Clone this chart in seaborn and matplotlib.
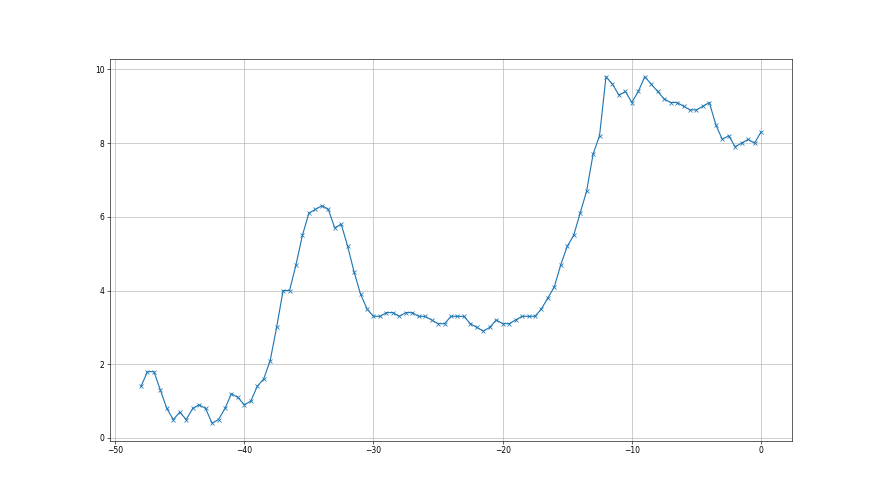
import matplotlib
matplotlib.use("Agg")
import matplotlib.pyplot as plt
import seaborn as sns
import numpy as np
import pandas as pd

x_values = [
    -48.0, -47.5, -47.0, -46.5, -46.0, -45.5, -45.0, -44.5, -44.0, -43.5,
    -43.0, -42.5, -42.0, -41.5, -41.0, -40.5, -40.0, -39.5, -39.0, -38.5,
    -38.0, -37.5, -37.0, -36.5, -36.0, -35.5, -35.0, -34.5, -34.0, -33.5,
    -33.0, -32.5, -32.0, -31.5, -31.0, -30.5, -30.0, -29.5, -29.0, -28.5,
    -28.0, -27.5, -27.0, -26.5, -26.0, -25.5, -25.0, -24.5, -24.0, -23.5,
    -23.0, -22.5, -22.0, -21.5, -21.0, -20.5, -20.0, -19.5, -19.0, -18.5,
    -18.0, -17.5, -17.0, -16.5, -16.0, -15.5, -15.0, -14.5, -14.0, -13.5,
    -13.0, -12.5, -12.0, -11.5, -11.0, -10.5, -10.0, -9.5, -9.0, -8.5,
    -8.0, -7.5, -7.0, -6.5, -6.0, -5.5, -5.0, -4.5, -4.0, -3.5,
    -3.0, -2.5, -2.0, -1.5, -1.0, -0.5, 0.0,
]
y_values = [
    1.4, 1.8, 1.8, 1.3, 0.8, 0.5, 0.7, 0.5, 0.8, 0.9,
    0.8, 0.4, 0.5, 0.8, 1.2, 1.1, 0.9, 1.0, 1.4, 1.6,
    2.1, 3.0, 4.0, 4.0, 4.7, 5.5, 6.1, 6.2, 6.3, 6.2,
    5.7, 5.8, 5.2, 4.5, 3.9, 3.5, 3.3, 3.3, 3.4, 3.4,
    3.3, 3.4, 3.4, 3.3, 3.3, 3.2, 3.1, 3.1, 3.3, 3.3,
    3.3, 3.1, 3.0, 2.9, 3.0, 3.2, 3.1, 3.1, 3.2, 3.3,
    3.3, 3.3, 3.5, 3.8, 4.1, 4.7, 5.2, 5.5, 6.1, 6.7,
    7.7, 8.2, 9.8, 9.6, 9.3, 9.4, 9.1, 9.4, 9.8, 9.6,
    9.4, 9.2, 9.1, 9.1, 9.0, 8.9, 8.9, 9.0, 9.1, 8.5,
    8.1, 8.2, 7.9, 8.0, 8.1, 8.0, 8.3,
]

df = pd.DataFrame({"x": x_values, "y": y_values})

fig, ax = plt.subplots(figsize=(16, 9), dpi=55)
fig.patch.set_facecolor("white")

sns.lineplot(data=df, x="x", y="y", ax=ax, color="#1f77b4", marker="x",
             markersize=6, markeredgecolor="#1f77b4", markeredgewidth=1.0,
             linewidth=1.5, sort=False)

ax.grid(True, color="#b0b0b0", linewidth=0.8)
ax.set_axisbelow(True)
ax.set_xlabel("")
ax.set_ylabel("")
ax.set_xticks([-50, -40, -30, -20, -10, 0])
ax.set_yticks([0, 2, 4, 6, 8, 10])

fig.savefig("out.png", dpi=55, facecolor="white")
